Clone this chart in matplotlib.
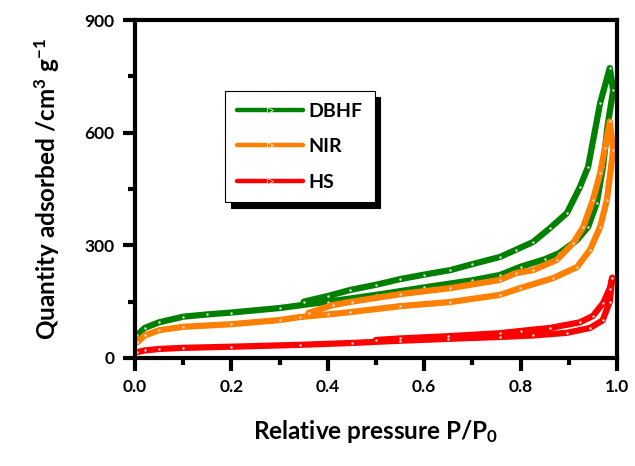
import numpy as np
import matplotlib.pyplot as plt
from matplotlib.ticker import MultipleLocator

plt.rcParams['font.family'] = ['Lato', 'DejaVu Sans']
plt.rcParams['font.weight'] = 'bold'
plt.rcParams['axes.labelweight'] = 'bold'
plt.rcParams['mathtext.fontset'] = 'custom'
plt.rcParams['mathtext.bf'] = 'Lato:bold'
plt.rcParams['mathtext.rm'] = 'Lato:bold'
plt.rcParams['mathtext.default'] = 'bf'

# DBHF
dbhf_ads_p = [0.005, 0.02, 0.05, 0.1, 0.15, 0.2, 0.3, 0.4, 0.5, 0.6, 0.7, 0.757, 0.8, 0.85, 0.88, 0.917, 0.94, 0.958, 0.971, 0.98, 0.992]
dbhf_ads_q = [62, 80, 95, 110, 116, 121, 133, 150, 168, 188, 207, 221, 243, 263, 279, 314, 349, 413, 509, 615, 713]
dbhf_des_p = [0.985, 0.965, 0.94, 0.923, 0.896, 0.861, 0.826, 0.79, 0.757, 0.7, 0.654, 0.6, 0.55, 0.5, 0.446, 0.4, 0.35]
dbhf_des_q = [772, 679, 509, 455, 386, 346, 309, 288, 269, 250, 234, 222, 210, 195, 181, 165, 150]

# NIR
nir_ads_p = [0.005, 0.02, 0.05, 0.1, 0.2, 0.3, 0.342, 0.4, 0.446, 0.55, 0.654, 0.757, 0.799, 0.868, 0.917, 0.944, 0.965, 0.979, 0.992]
nir_ads_q = [42, 60, 74, 83, 90, 101, 109, 116, 122, 138, 149, 168, 186, 213, 242, 288, 349, 421, 554]
nir_des_p = [0.985, 0.975, 0.965, 0.95, 0.93, 0.909, 0.875, 0.826, 0.79, 0.757, 0.654, 0.55, 0.45, 0.41, 0.36]
nir_des_q = [630, 560, 492, 421, 349, 306, 261, 234, 226, 208, 186, 170, 150, 141, 120]

# HS
hs_ads_p = [0.005, 0.02, 0.05, 0.1, 0.2, 0.342, 0.45, 0.55, 0.65, 0.757, 0.826, 0.896, 0.944, 0.97, 0.985]
hs_ads_q = [16, 20, 24, 27, 30, 35, 40, 46, 51, 56, 60, 67, 80, 100, 150]
hs_des_p = [0.99, 0.985, 0.971, 0.95, 0.923, 0.861, 0.8, 0.757, 0.65, 0.55, 0.5]
hs_des_q = [214, 185, 146, 112, 95, 80, 72, 66, 58, 52, 48]

fig = plt.figure(figsize=(6.35, 4.66), dpi=100)
ax = fig.add_axes([0.2126, 0.2318, 0.7591, 0.7252])

series = [
    ('DBHF', dbhf_ads_p, dbhf_ads_q, dbhf_des_p, dbhf_des_q, '#008000'),
    ('NIR', nir_ads_p, nir_ads_q, nir_des_p, nir_des_q, '#FF8000'),
    ('HS', hs_ads_p, hs_ads_q, hs_des_p, hs_des_q, '#FF0000'),
]
for name, ap, aq, dp, dq, c in series:
    ax.plot(ap + dp, aq + dq, color=c, lw=4.5, solid_capstyle='round',
            solid_joinstyle='round', marker='o', ms=1.8, mfc='#dddddd', mew=0)
    # legend proxy
    ax.plot([], [], color=c, lw=3.2, solid_capstyle='round', marker='>', ms=4,
            mfc=c, mec='white', mew=0.5, label=name)

ax.set_xlim(0, 1.0)
ax.set_ylim(0, 900)
ax.xaxis.set_major_locator(MultipleLocator(0.2))
ax.xaxis.set_minor_locator(MultipleLocator(0.1))
ax.yaxis.set_major_locator(MultipleLocator(300))
ax.yaxis.set_minor_locator(MultipleLocator(150))
ax.xaxis.set_major_formatter(plt.FormatStrFormatter('%.1f'))

for s in ax.spines.values():
    s.set_linewidth(3)
ax.tick_params(which='major', direction='out', length=9, width=3, labelsize=12.5, pad=6)
ax.tick_params(which='minor', direction='out', length=5, width=3)
ax.tick_params(top=False, right=False)

ax.set_xlabel('Relative pressure P/P$_{0}$', fontsize=17.5, labelpad=17)
ax.set_ylabel('Quantity adsorbed /cm$^{3}$ g$^{-1}$', fontsize=17.5, labelpad=16)

leg = ax.legend(loc='upper left', bbox_to_anchor=(0.187, 0.79), borderaxespad=0,
                fontsize=14, frameon=True, fancybox=False, numpoints=1,
                handlelength=3.4, handletextpad=0.3, labelspacing=0.95,
                borderpad=0.6,
                shadow={'color': 'black', 'alpha': 1.0, 'ox': 4, 'oy': -4})
leg.get_frame().set_edgecolor('black')
leg.get_frame().set_linewidth(0.8)

fig.savefig('out.png', dpi=100)
